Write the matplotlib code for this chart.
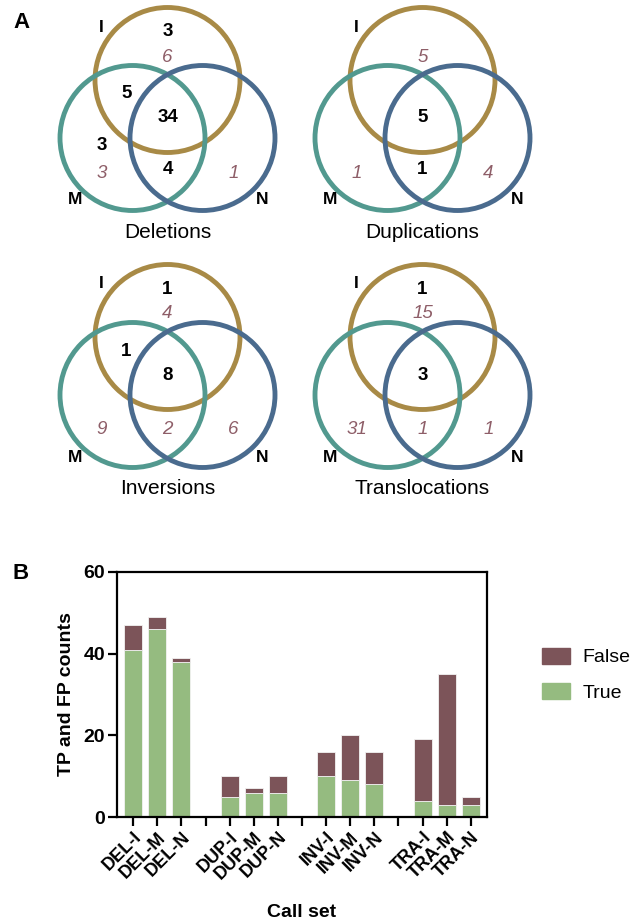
import numpy as np
import matplotlib.pyplot as plt
from matplotlib.patches import Circle, Patch

plt.rcParams['font.family'] = ['Liberation Sans', 'DejaVu Sans']

# Venn data: counts per region (TP bold black, FP italic)
regions = ["I", "M", "N", "IM", "IN", "MN", "IMN"]
del_tp = [3, 3, 0, 5, 0, 4, 34]
del_fp = [6, 3, 1, 0, 0, 0, 0]
dup_tp = [0, 0, 0, 0, 0, 1, 5]
dup_fp = [5, 1, 4, 0, 0, 0, 0]
inv_tp = [1, 0, 0, 1, 0, 0, 8]
inv_fp = [4, 9, 6, 0, 0, 2, 0]
tra_tp = [1, 0, 0, 0, 0, 0, 3]
tra_fp = [15, 31, 1, 0, 0, 1, 0]
venn_titles = ["Deletions", "Duplications", "Inversions", "Translocations"]
set_names = ["I", "M", "N"]

# Bar data
call_sets = ["DEL-I", "DEL-M", "DEL-N", "DUP-I", "DUP-M", "DUP-N",
             "INV-I", "INV-M", "INV-N", "TRA-I", "TRA-M", "TRA-N"]
true_counts = [41, 46, 38, 5, 6, 6, 10, 9, 8, 4, 3, 3]
false_counts = [6, 3, 1, 5, 1, 4, 6, 11, 8, 15, 32, 2]

W, H = 634, 919
fig = plt.figure(figsize=(W / 100, H / 100), dpi=100)

gold, teal, blue = '#A88A46', '#52998F', '#4A6B8E'
fp_col = '#8E5E68'
maroon, green = '#7C5459', '#95BB80'


def px_axes(left, top, w, h):
    return fig.add_axes([left / W, 1 - (top + h) / H, w / W, h / H])


# layout of one venn, in px relative to centre of circle I (y up)
circ_pos = {"I": (0, 0), "M": (-35, -58), "N": (35, -58)}
circ_col = {"I": gold, "M": teal, "N": blue}
r = 72.5
tp_pos = {"I": (0, 48), "M": (-66, -65), "N": (66, -65), "IM": (-41, -14),
          "IN": (41, -14), "MN": (0, -90), "IMN": (0, -38)}
fp_pos = {"I": (0, 23), "M": (-66, -93), "N": (66, -93), "IM": (-41, -36),
          "IN": (41, -36), "MN": (0, -93), "IMN": (0, -60)}
name_pos = {"I": (-66, 53), "M": (-92, -120), "N": (95, -120)}

venn_data = [(del_tp, del_fp), (dup_tp, dup_fp), (inv_tp, inv_fp), (tra_tp, tra_fp)]
centres = [(167.5, 80), (422.5, 80), (167.5, 337), (422.5, 337)]

for (cx, cy), title, (tp, fp) in zip(centres, venn_titles, venn_data):
    ax = px_axes(cx - 130, cy - 80, 260, 250)
    ax.set_xlim(-130, 130)
    ax.set_ylim(-170, 80)
    ax.axis('off')
    for s in set_names:
        ax.add_patch(Circle(circ_pos[s], r, fill=False, lw=3.5, ec=circ_col[s]))
    for s in set_names:
        ax.text(*name_pos[s], s, ha='center', va='center', fontsize=12.5, fontweight='bold')
    for reg, t, f in zip(regions, tp, fp):
        if t:
            ax.text(*tp_pos[reg], str(t), ha='center', va='center',
                    fontsize=13.5, fontweight='bold')
        if f:
            ax.text(*fp_pos[reg], str(f), ha='center', va='center',
                    fontsize=13.5, style='italic', color=fp_col)
    ax.text(0, -152, title, ha='center', va='center', fontsize=15)

# Bar chart
ax = fig.add_axes([117 / W, 1 - 817 / H, 370 / W, 245 / H])
idx = np.arange(len(call_sets))
x = idx + idx // 3
ax.bar(x, true_counts, width=0.75, color=green, edgecolor='#f2f2f2', lw=0.6)
ax.bar(x, false_counts, bottom=true_counts, width=0.75, color=maroon,
       edgecolor='#f2f2f2', lw=0.6)
ax.set_xlim(-0.67, 14.67)
ax.set_ylim(0, 60)
ax.set_yticks([0, 20, 40, 60])
ticks = np.arange(15)
labels = [''] * 15
for xi, name in zip(x, call_sets):
    labels[xi] = name
ax.set_xticks(ticks)
ax.set_xticklabels(labels, rotation=45, ha='right', rotation_mode='anchor',
                   fontsize=13, fontweight='bold')
for lab in ax.get_yticklabels():
    lab.set_fontweight('bold')
    lab.set_fontsize(14)
for sp in ax.spines.values():
    sp.set_linewidth(1.6)
ax.tick_params(width=1.6, length=6.5, pad=2)
ax.set_ylabel('TP and FP counts', fontsize=14, fontweight='bold', labelpad=6)
ax.set_xlabel('Call set', fontsize=14, fontweight='bold', labelpad=15)

handles = [Patch(color=maroon), Patch(color=green)]
fig.legend(handles, ['False', 'True'], loc='upper left',
           bbox_to_anchor=(542 / W, 1 - 648 / H), frameon=False, fontsize=14,
           borderpad=0, borderaxespad=0,
           handlelength=1.45, handleheight=0.85, labelspacing=0.85, handletextpad=0.65)

fig.text(21.7 / W, 1 - 22.8 / H, 'A', ha='center', va='center', fontsize=16, fontweight='bold')
fig.text(21 / W, 1 - 573.8 / H, 'B', ha='center', va='center', fontsize=16, fontweight='bold')

fig.savefig('out.png', dpi=100)
